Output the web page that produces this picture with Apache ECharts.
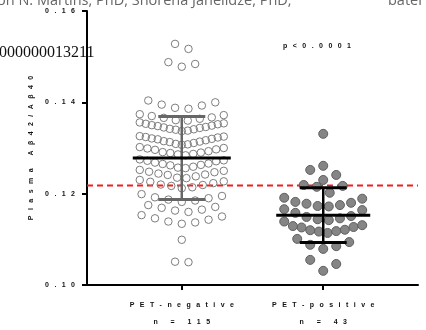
<!DOCTYPE html>
<html><head><meta charset="utf-8">
<script src="https://cdn.jsdelivr.net/npm/echarts@6/dist/echarts.min.js"></script>
<style>html,body{margin:0;padding:0;background:#fff}#c{width:426px;height:330px}</style>
</head><body><div id="c"></div>
<script>
const categories = ['PET-negative', 'PET-positive'];
const counts = ['n = 115', 'n = 43'];
const yTicks = [0.10, 0.12, 0.14, 0.16];
const yTitle = 'Plasma A\u03b242/A\u03b240';
const pLabel = 'p<0.0001';
const cutoff = 0.1218;
const groupMeans = [0.1278, 0.1153];
const groupSDs = [0.0091, 0.0060];

const petNegative = [
  0.1050, 0.1051, 0.1099,
  0.1134, 0.1137, 0.1139, 0.1143, 0.1146, 0.1150, 0.1153,
  0.1160, 0.1163, 0.1165, 0.1169, 0.1171, 0.1175,
  0.1182, 0.1185, 0.1187, 0.1190, 0.1192, 0.1195, 0.1199,
  0.1212, 0.1214, 0.1217, 0.1219, 0.1220, 0.1223, 0.1226, 0.1227, 0.1230,
  0.1234, 0.1235, 0.1238, 0.1241, 0.1242, 0.1244, 0.1247, 0.1248, 0.1250, 0.1252,
  0.1256, 0.1257, 0.1259, 0.1262, 0.1263, 0.1265, 0.1266, 0.1268, 0.1271, 0.1272, 0.1273, 0.1275,
  0.1284, 0.1286, 0.1287, 0.1289, 0.1290, 0.1291, 0.1293, 0.1296, 0.1297, 0.1299, 0.1300, 0.1302,
  0.1307, 0.1308, 0.1309, 0.1311, 0.1313, 0.1314, 0.1315, 0.1317, 0.1319, 0.1320, 0.1321, 0.1323, 0.1324, 0.1325, 0.1326,
  0.1337, 0.1338, 0.1340, 0.1341, 0.1342, 0.1344, 0.1345, 0.1346, 0.1348, 0.1349, 0.1350, 0.1352, 0.1353, 0.1354, 0.1356,
  0.1360, 0.1361, 0.1364, 0.1366, 0.1367, 0.1370, 0.1372, 0.1374,
  0.1386, 0.1388, 0.1393, 0.1395, 0.1400, 0.1404,
  0.1478, 0.1484, 0.1488,
  0.1517, 0.1528
];
const petPositive = [
  0.1031, 0.1046, 0.1055,
  0.1079, 0.1085, 0.1088, 0.1094, 0.1101,
  0.1114, 0.1117, 0.1118, 0.1120, 0.1121, 0.1126, 0.1127, 0.1129, 0.1131, 0.1139,
  0.1142, 0.1144, 0.1146, 0.1149, 0.1151, 0.1158, 0.1164, 0.1166,
  0.1172, 0.1173, 0.1175, 0.1178, 0.1180, 0.1182, 0.1189, 0.1191,
  0.1202, 0.1215, 0.1217, 0.1219,
  0.1230, 0.1241, 0.1252,
  0.1261,
  0.1331
];

// ---- layout constants ----
const W = 426, H = 330;
const G = {left: 87, right: 8, top: 11, bottom: 45};
const X_MIN = 0.33, X_MAX = 2.67, Y_MIN = 0.10, Y_MAX = 0.16;
const pxPerX = (W - G.left - G.right) / (X_MAX - X_MIN);
const pxPerY = (H - G.top - G.bottom) / (Y_MAX - Y_MIN);
const SEP = ' \u2002';
const sp = s => Array.from(s).join(SEP);
const FONT = 'Arial, "Liberation Sans", sans-serif';

// GraphPad-like column scatter: points binned in rows, spread center-out
function columnScatter(vals, center, rowPx, basePx, maxSpanPx) {
  const s = vals.slice().sort((a, b) => a - b);
  const rowH = rowPx / pxPerY;
  const out = [];
  let i = 0;
  while (i < s.length) {
    const start = s[i], row = [];
    while (i < s.length && s[i] - start <= rowH + 1e-9) { row.push(s[i]); i++; }
    const n = row.length;
    const step = n > 1 ? Math.min(basePx, maxSpanPx / (n - 1)) : 0;
    const slots = [];
    for (let k = 0; k < n; k++) slots.push((k - (n - 1) / 2) * step);
    slots.sort((a, b) => (Math.abs(a) - Math.abs(b)) || (b - a));
    row.forEach((v, j) => out.push([center + slots[j] / pxPerX, v]));
  }
  return out;
}

const negData = columnScatter(petNegative, 1, 9, 13.4, 84);
const posData = columnScatter(petPositive, 2, 12, 13, 78);
const barData = groupMeans.map((m, i) => [i + 1, m, groupSDs[i], i]);

const chart = echarts.init(document.getElementById('c'), null, {renderer: 'canvas'});
chart.setOption({
  animation: false,
  backgroundColor: '#fff',
  grid: Object.assign({containLabel: false, outerBoundsMode: 'none'}, G),
  xAxis: {
    type: 'value', min: X_MIN, max: X_MAX,
    axisLine: {show: true, onZero: false, lineStyle: {color: '#000', width: 2}},
    axisTick: {show: true, customValues: [1, 2], length: 5, lineStyle: {color: '#000', width: 2}},
    axisLabel: {
      customValues: [1, 2], margin: 12,
      formatter: v => { const k = Math.round(v) - 1; return '{a|' + sp(categories[k]) + '}\n{a|' + sp(counts[k]) + '}'; },
      rich: {a: {fontSize: 7, fontWeight: 'bold', fontFamily: FONT, color: '#111', lineHeight: 17}}
    },
    splitLine: {show: false}
  },
  yAxis: {
    type: 'value', min: Y_MIN, max: Y_MAX, interval: 0.02,
    axisLine: {show: true, onZero: false, lineStyle: {color: '#000', width: 2}},
    axisTick: {show: true, length: 5, lineStyle: {color: '#000', width: 2}},
    axisLabel: {
      margin: 12, fontSize: 7, fontWeight: 'bold', fontFamily: FONT, color: '#111',
      formatter: v => { const t = yTicks.find(q => Math.abs(q - v) < 1e-6); return t === undefined ? '' : sp(t.toFixed(2)); }
    },
    splitLine: {show: false},
    name: sp(yTitle), nameLocation: 'middle', nameGap: 50,
    nameTextStyle: {fontSize: 7, fontWeight: 'bold', fontFamily: FONT, color: '#111'}
  },
  series: [
    {
      type: 'line', silent: true, z: 1, symbol: 'none',
      data: [[X_MIN, cutoff], [X_MAX, cutoff]],
      lineStyle: {color: '#f41c1c', width: 2, type: [6, 4]}
    },
    {
      type: 'scatter', silent: true, z: 2, symbol: 'circle', symbolSize: 7.5,
      data: negData,
      itemStyle: {color: 'rgba(255,255,255,0)', borderColor: '#7d7d7d', borderWidth: 1, opacity: 1}
    },
    {
      type: 'scatter', silent: true, z: 2, symbol: 'circle', symbolSize: 9,
      data: posData,
      itemStyle: {color: '#858585', borderColor: '#5f5f5f', borderWidth: 1, opacity: 1}
    },
    {
      type: 'custom', silent: true, z: 5,
      data: barData,
      renderItem: (params, api) => {
        const x = api.value(0), m = api.value(1), sd = api.value(2), gi = api.value(3);
        const c = api.coord([x, m]), t = api.coord([x, m + sd]), b = api.coord([x, m - sd]);
        const meanHalf = gi === 0 ? 49 : 47, capHalf = 23.5;
        const barColor = gi === 0 ? '#666' : '#000';
        const ln = (x1, y1, x2, y2, col, w) => ({type: 'line', shape: {x1, y1, x2, y2}, style: {stroke: col, lineWidth: w}});
        return {type: 'group', children: [
          ln(t[0], t[1], b[0], b[1], barColor, 2.5),
          ln(t[0] - capHalf, t[1], t[0] + capHalf, t[1], barColor, 3),
          ln(b[0] - capHalf, b[1], b[0] + capHalf, b[1], barColor, 3),
          ln(c[0] - meanHalf, c[1], c[0] + meanHalf, c[1], '#000', 3)
        ]};
      }
    }
  ],
  graphic: [
    {type: 'text', x: 317, y: 46, silent: true, style: {text: sp(pLabel), font: 'bold 7px ' + FONT, fill: '#111', align: 'center', verticalAlign: 'middle'}},
    {type: 'text', x: -3, y: 0.5, silent: true, style: {text: 'on N. Martins, PhD, Shorena Janelidze, PhD,', font: '14.5px "Open Sans", sans-serif', fill: '#666', align: 'left', verticalAlign: 'middle'}},
    {type: 'text', x: 388, y: 0.5, silent: true, style: {text: 'bater', font: '14.5px "Open Sans", sans-serif', fill: '#666', align: 'left', verticalAlign: 'middle'}},
    {type: 'text', x: -1, y: 53, silent: true, style: {text: '000000013211', font: '16px "Liberation Serif", "Times New Roman", serif', fill: '#111', align: 'left', verticalAlign: 'middle'}}
  ]
});
</script></body></html>
